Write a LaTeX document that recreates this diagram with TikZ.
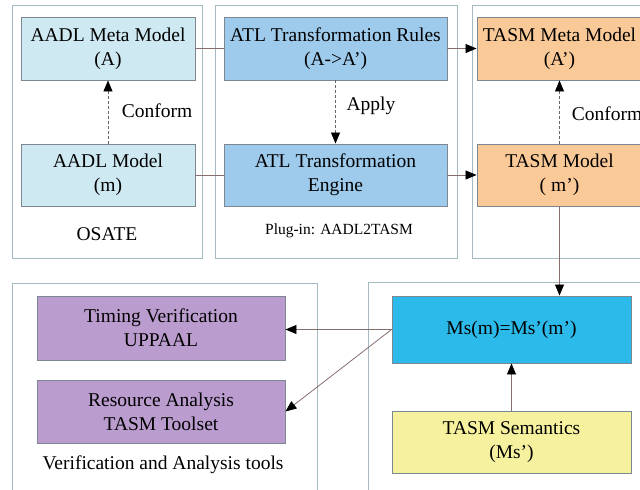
\documentclass[tikz,border=0pt]{standalone}
\usepackage{fontspec}
\setmainfont{Liberation Serif}
\usetikzlibrary{arrows.meta}
\definecolor{aadlc}{RGB}{206,233,242}
\definecolor{atlc}{RGB}{158,202,236}
\definecolor{tasmc}{RGB}{250,201,152}
\definecolor{msc}{RGB}{44,186,234}
\definecolor{semc}{RGB}{246,241,158}
\definecolor{purpc}{RGB}{186,156,206}
\definecolor{boxline}{RGB}{125,135,145}
\definecolor{contline}{RGB}{165,185,195}
\definecolor{conline}{RGB}{135,110,110}
\tikzset{
  box/.style={draw=boxline, line width=0.9pt, align=center, inner sep=2pt,
    font=\fontsize{19.5}{24}\selectfont},
  cont/.style={draw=contline, line width=1pt},
  lbl/.style={font=\fontsize{19.5}{24}\selectfont},
  conn/.style={draw=conline, line width=0.8pt},
  arr/.style={conn, -{Triangle[length=11pt,width=9pt,color=black]}},
  darr/.style={draw=gray!80!black, line width=0.8pt, dash pattern=on 3pt off 2pt, -{Triangle[length=11pt,width=9pt,color=black]}}
}
\begin{document}
\begin{tikzpicture}[x=1pt,y=-1pt]
\clip (0,0) rectangle (640,490);
\fill[white] (0,0) rectangle (640,490);
% containers
\draw[cont] (12,5) rectangle (202,258);
\draw[cont] (215,5) rectangle (457,258);
\draw[cont] (472,5) rectangle (660,258);
\draw[cont] (12,283) rectangle (317,510);
\draw[cont] (368,282) rectangle (660,510);
% boxes
\node[box, fill=aadlc, minimum width=174pt, minimum height=63pt] (metaA) at (108,48.5) {AADL Meta Model\\(A)};
\node[box, fill=aadlc, minimum width=174pt, minimum height=62pt] (modelA) at (108,175) {AADL Model\\(m)};
\node[box, fill=atlc, minimum width=223pt, minimum height=63pt] (rules) at (335.5,48.5) {ATL Transformation Rules\\(A->A’)};
\node[box, fill=atlc, minimum width=223pt, minimum height=62pt] (engine) at (335.5,175) {ATL Transformation\\Engine};
\node[box, fill=tasmc, minimum width=165pt, minimum height=63pt] (tmeta) at (559.5,48.5) {TASM Meta Model\\(A’)};
\node[box, fill=tasmc, minimum width=165pt, minimum height=62pt] (tmodel) at (559.5,175) {TASM Model\\( m')};
\node[box, fill=msc, minimum width=239pt, minimum height=67pt] (ms) at (511.5,329.5) {Ms(m)=Ms’(m’)};
\node[box, fill=semc, minimum width=239pt, minimum height=62pt] (sem) at (511.5,442) {TASM Semantics\\(Ms’)};
\node[box, fill=purpc, minimum width=248pt, minimum height=64pt] (timing) at (161,328) {Timing Verification\\UPPAAL};
\node[box, fill=purpc, minimum width=248pt, minimum height=63pt] (res) at (161,411.5) {Resource Analysis\\TASM Toolset};
% labels
\node[lbl] (conf1) at (157,111) {Conform};
\node[lbl] (apply) at (371,106) {Apply};
\node[lbl] (conf2) at (607,114) {Conform};
\node[lbl] (osate) at (107,234) {OSATE};
\node[font=\fontsize{15.5}{18}\selectfont] (plug) at (339,231) {Plug-in: AADL2TASM};
\node[lbl] (vat) at (163,465) {Verification and Analysis tools};
% connectors
\draw[conn] (metaA.east) -- (rules.west);
\draw[arr] (rules.east) -- (tmeta.west);
\draw[conn] (modelA.east) -- (engine.west);
\draw[arr] (engine.east) -- (tmodel.west);
\draw[darr] (modelA.north) -- (metaA.south);
\draw[darr] (rules.south) -- (engine.north);
\draw[darr] (tmodel.north) -- (tmeta.south);
\draw[arr] (tmodel.south) -- (tmodel.south |- ms.north);
\draw[arr] (ms.west) -- (ms.west -| timing.east);
\draw[arr] (ms.west) -- (res.east);
\draw[arr] (sem.north) -- (ms.south);
\end{tikzpicture}
\end{document}
